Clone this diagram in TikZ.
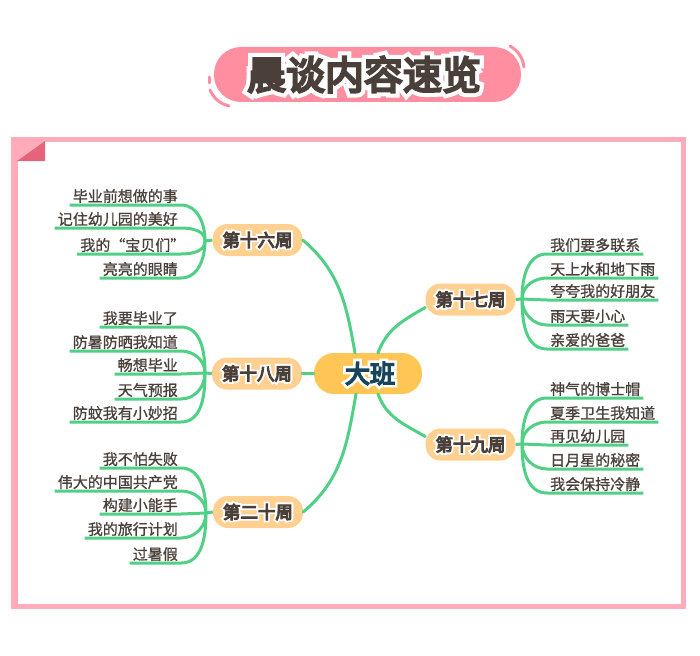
\documentclass[tikz,border=0pt]{standalone}
\usepackage{fontspec}
\usepackage{xcolor}
\usetikzlibrary{positioning}
\setmainfont{Noto Sans CJK SC}
\newfontfamily\plainfont[FakeBold=1]{Noto Sans CJK SC}
\newfontfamily\heavyfont[FakeBold=6]{Noto Sans CJK SC}
\newfontfamily\halofont[FakeBold=27]{Noto Sans CJK SC}
\definecolor{framepink}{HTML}{FFABB9}
\definecolor{foldred}{HTML}{E5647C}
\definecolor{titlepink}{HTML}{FF8EA1}
\definecolor{centeryellow}{HTML}{FFC655}
\definecolor{weekorange}{HTML}{FFD08F}
\definecolor{linegreen}{HTML}{4FD085}
\definecolor{inkbrown}{HTML}{4A3F39}
\definecolor{inknavy}{HTML}{17465C}
\newcommand{\halotext}[2]{\rlap{\color{white}\halofont #2}{\color{#1}\heavyfont #2}}
\tikzset{
  week/.style={fill=weekorange, rounded corners=15pt, minimum width=90pt, minimum height=32pt, inner sep=0pt, font=\fontsize{17.5pt}{18pt}\selectfont},
  leaf/.style={inner xsep=3pt, inner ysep=0pt, text height=13pt, text depth=3pt, text=inkbrown, font=\plainfont\fontsize{15pt}{16pt}\selectfont},
  branch/.style={draw=linegreen, line width=3pt, line cap=round},
  twig/.style={draw=linegreen, line width=3pt}
}
\begin{document}
\begin{tikzpicture}[x=1pt,y=-1pt]
    \useasboundingbox (0,0) rectangle (700,655);
    % frame with folded corner
    \draw[framepink, line width=5.5pt] (14,139.5) rectangle (683.5,606.5);
    \fill[framepink] (11,137) rectangle (17.5,609);
    \fill[framepink] (17,141) -- (45,141) -- (17,161) -- cycle;
    \fill[foldred] (17,161) -- (45,141) -- (45,161) -- cycle;

    % title
    \node[fill=titlepink, rounded corners=27pt, minimum width=307pt, minimum height=55pt, inner sep=0pt]
      (title) at (367.5,74.5) {\fontsize{39pt}{40pt}\selectfont\halotext{inkbrown}{晨谈内容速览}\kern7pt};
    \draw[titlepink, line width=3pt, line cap=round] (510,46) to[bend left=25] (524,67);
    \draw[titlepink, line width=3pt, line cap=round] (209,77) -- (209,83);
    \draw[titlepink, line width=3pt, line cap=round] (210,90) to[bend right=25] (229,106);

    % centre and weeks
    \node[fill=centeryellow, rounded corners=20pt, minimum width=108pt, minimum height=41pt, inner sep=0pt]
      (center) at (368,373.5) {\kern4pt\fontsize{25pt}{26pt}\selectfont\halotext{inknavy}{大班}};
    \node[week] (w16) at (257.5,240) {\halotext{inkbrown}{第十六周}};
    \node[week] (w17) at (470.5,299.5) {\halotext{inkbrown}{第十七周}};
    \node[week] (w18) at (257,373.5) {\halotext{inkbrown}{第十八周}};
    \node[week] (w19) at (470.5,444.5) {\halotext{inkbrown}{第十九周}};
    \node[week] (w20) at (258,512) {\halotext{inkbrown}{第二十周}};

    \draw[branch] (355,353) to[out=100,in=-40] (w16.east);
    \draw[branch] (378,353) to[out=70,in=210] (w17.190);
    \draw[branch] (center.west) -- (w18.east);
    \draw[branch] (378,394) to[out=-70,in=150] (w19.170);
    \draw[branch] (356,394) to[out=-100,in=40] (w20.east);

    % trunk points
    \coordinate (t16) at (205,241);
    \coordinate (t17) at (522,299);
    \coordinate (t18) at (205,373);
    \coordinate (t19) at (522,444);
    \coordinate (t20) at (206,513);
    \draw[twig] (w16.west) -- (t16);
    \draw[twig] (w17.east) -- (t17);
    \draw[twig] (w18.west) -- (t18);
    \draw[twig] (w19.east) -- (t19);
    \draw[twig] (w20.west) -- (t20);

    % week 16
    \node[leaf, anchor=south east] (a1) at (181,205) {毕业前想做的事};
    \node[leaf, anchor=south east] (a2) at (181,228) {记住幼儿园的美好};
    \node[leaf, anchor=south east] (a3) at (181,254) {我的“宝贝们”\kern-7.5pt};
    \node[leaf, anchor=south east] (a4) at (181,278) {亮亮的眼睛};
    \draw[twig] (a1.south west) -- (a1.south east) to[out=0,in=90] (t16);
    \draw[twig] (a2.south west) -- (a2.south east) to[out=0,in=90] (t16);
    \draw[twig] (a3.south west) -- (a3.south east) to[out=0,in=-90] (t16);
    \draw[twig] (a4.south west) -- (a4.south east) to[out=0,in=-90] (t16);

    % week 18
    \node[leaf, anchor=south east] (b1) at (181,327) {我要毕业了};
    \node[leaf, anchor=south east] (b2) at (181,351) {防暑防晒我知道};
    \node[leaf, anchor=south east] (b3) at (181,374) {畅想毕业};
    \node[leaf, anchor=south east] (b4) at (181,399) {天气预报};
    \node[leaf, anchor=south east] (b5) at (181,422) {防蚊我有小妙招};
    \draw[twig] (b1.south west) -- (b1.south east) to[out=0,in=90] (t18);
    \draw[twig] (b2.south west) -- (b2.south east) to[out=0,in=90] (t18);
    \draw[twig] (b3.south west) -- (b3.south east) -- (t18);
    \draw[twig] (b4.south west) -- (b4.south east) to[out=0,in=-90] (t18);
    \draw[twig] (b5.south west) -- (b5.south east) to[out=0,in=-90] (t18);

    % week 20
    \node[leaf, anchor=south east] (c1) at (181,468) {我不怕失败};
    \node[leaf, anchor=south east] (c2) at (181,491) {伟大的中国共产党};
    \node[leaf, anchor=south east] (c3) at (181,514) {构建小能手};
    \node[leaf, anchor=south east] (c4) at (181,538) {我的旅行计划};
    \node[leaf, anchor=south east] (c5) at (181,563) {过暑假};
    \draw[twig] (c1.south west) -- (c1.south east) to[out=0,in=90] (t20);
    \draw[twig] (c2.south west) -- (c2.south east) to[out=0,in=90] (t20);
    \draw[twig] (c3.south west) -- (c3.south east) -- (t20);
    \draw[twig] (c4.south west) -- (c4.south east) to[out=0,in=-90] (t20);
    \draw[twig] (c5.south west) -- (c5.south east) to[out=0,in=-90] (t20);

    % week 17
    \node[leaf, anchor=south west] (d1) at (547,254) {我们要多联系};
    \node[leaf, anchor=south west] (d2) at (547,278) {天上水和地下雨};
    \node[leaf, anchor=south west] (d3) at (547,300) {夸夸我的好朋友};
    \node[leaf, anchor=south west] (d4) at (547,325) {雨天要小心};
    \node[leaf, anchor=south west] (d5) at (547,349) {亲爱的爸爸};
    \draw[twig] (t17) to[out=90,in=180] (d1.south west) -- (d1.south east);
    \draw[twig] (t17) to[out=90,in=180] (d2.south west) -- (d2.south east);
    \draw[twig] (t17) -- (d3.south west) -- (d3.south east);
    \draw[twig] (t17) to[out=-90,in=180] (d4.south west) -- (d4.south east);
    \draw[twig] (t17) to[out=-90,in=180] (d5.south west) -- (d5.south east);

    % week 19
    \node[leaf, anchor=south west] (e1) at (547,398) {神气的博士帽};
    \node[leaf, anchor=south west] (e2) at (547,422) {夏季卫生我知道};
    \node[leaf, anchor=south west] (e3) at (547,445) {再见幼儿园};
    \node[leaf, anchor=south west] (e4) at (547,469) {日月星的秘密};
    \node[leaf, anchor=south west] (e5) at (547,493) {我会保持冷静};
    \draw[twig] (t19) to[out=90,in=180] (e1.south west) -- (e1.south east);
    \draw[twig] (t19) to[out=90,in=180] (e2.south west) -- (e2.south east);
    \draw[twig] (t19) -- (e3.south west) -- (e3.south east);
    \draw[twig] (t19) to[out=-90,in=180] (e4.south west) -- (e4.south east);
    \draw[twig] (t19) to[out=-90,in=180] (e5.south west) -- (e5.south east);
  \end{tikzpicture}
\end{document}
